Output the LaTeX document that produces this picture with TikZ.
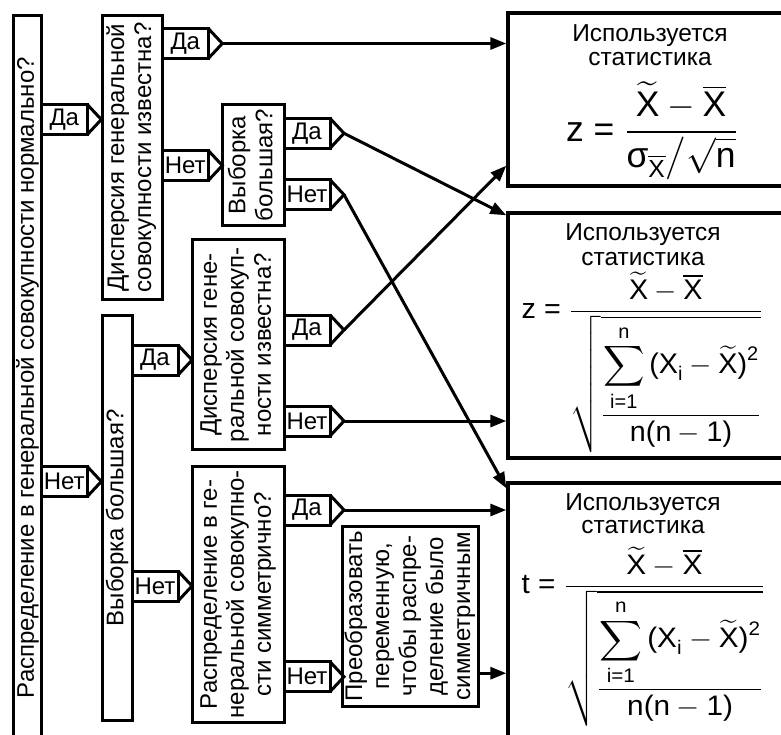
\documentclass[tikz,border=0pt]{standalone}
\usepackage{amsmath}
\usepackage{fontspec}
\setmainfont{Liberation Sans}
\usepackage{graphicx}
\usetikzlibrary{arrows.meta}

\newcommand\qfont{\fontsize{24}{27}\selectfont}
\newcommand\tgfont{\fontsize{24}{24}\selectfont}
\newcommand\rsfont{\fontsize{24.5}{24}\selectfont}
\newcommand\rot[1]{\rotatebox{90}{\begin{tabular}{@{}c@{}}#1\end{tabular}}}
\newcommand\TX{\widetilde{\text{X}}}
\newcommand\BX{\overline{\text{X}}}
\newcommand\SQform[1]{\fontsize{17.28}{20}\selectfont
  $\text{#1}\mathrel{\text{=}}\dfrac{\TX - \BX}{\sqrt{\dfrac{\displaystyle\sum\limits_{\text{i=1}}^{\text{n}}\text{(X}_{\text{i}} - \TX\text{)}^{\text{2}}}{\text{n(n} - \text{1)}}}}$}

\tikzset{
  qbox/.style={draw, line width=3pt, inner sep=0pt, outer sep=0pt, font=\qfont},
  resbox/.style={draw, line width=4pt, inner sep=0pt},
  tagbox/.style={draw, line width=3pt, minimum width=46pt, minimum height=30pt, inner sep=0pt, outer sep=0pt, font=\tgfont, anchor=west},
  tagline/.style={line width=3pt, line join=miter},
  arr/.style={line width=3pt, -{Triangle[length=16pt,width=12pt]}},
  rtext/.style={font=\rsfont, inner sep=0pt, anchor=base},
  ftext/.style={inner sep=0pt, outer sep=0pt, anchor=north west},
}

\newcommand\yesno[4]{%
  \node[tagbox] (#1) at (#2.east |- 0,#3) {#4};
  \draw[tagline] (#1.north east) -- ([xshift=14pt]#1.east) coordinate (#1tip) -- (#1.south east);
}

\begin{document}
\begin{tikzpicture}[x=1pt, y=-1pt]
\useasboundingbox (0,0) rectangle (781,734);
\fill[white] (0,0) rectangle (781,734);
\clip (0,0) rectangle (781,734);

% question boxes
\node[qbox, minimum width=27.8pt, minimum height=724.7pt] (q0) at (27.4,377.6)
  {\rotatebox{90}{Распределение в генеральной совокупности нормально?}};
\node[qbox, minimum width=60pt, minimum height=284.4pt] (b2) at (132.3,157.5)
  {\rot{Дисперсия генеральной\\совокупности известна?}};
\node[qbox, minimum width=61.3pt, minimum height=120.6pt] (b3) at (253.35,165)
  {\rot{Выборка\\большая?}};
\node[qbox, minimum width=91.2pt, minimum height=210.2pt] (b4) at (238.4,344.6)
  {\rot{Дисперсия гене-\\ральной совокуп-\\ности известна?}};
\node[qbox, minimum width=29.7pt, minimum height=404.5pt] (b2b) at (117.15,517.75)
  {\rotatebox{90}{Выборка большая?}};
\node[qbox, minimum width=91.2pt, minimum height=255.3pt] (b5) at (238.4,594.35)
  {\rot{Распределение в ге-\\неральной совокупно-\\сти симметрично?}};
\node[qbox, minimum width=135.9pt, minimum height=180pt] (tr) at (410.75,616.2)
  {\rot{Преобразовать\\переменную,\\чтобы распре-\\деление было\\симметричным}};

% result boxes
\node[resbox, minimum width=291.7pt, minimum height=172.4pt] (r1) at (654.15,99.5) {};
\node[resbox, minimum width=291.7pt, minimum height=245pt] (r2) at (654.15,335.8) {};
\node[resbox, minimum width=291.7pt, minimum height=256.7pt] (r3) at (654.15,611.65) {};

\node[rtext] (r1a) at (650,41) {Используется};
\node[rtext] (r1b) at (650,65) {статистика};
\node[ftext] (r1f) at (566,82) {\resizebox*{172pt}{98pt}{\fontsize{17.28}{20}\selectfont
  $\text{z}\mathrel{\text{=}}\dfrac{\TX - \BX}{\text{σ}_{\BX}\big/\sqrt{\text{n}}}$}};

\node[rtext] (r2a) at (643,240) {Используется};
\node[rtext] (r2b) at (643,265) {статистика};
\node[ftext] (r2f) at (521.7,271.7) {\resizebox*{241.3pt}{181.3pt}{\SQform{z}}};

\node[rtext] (r3a) at (643,510) {Используется};
\node[rtext] (r3b) at (643,533) {статистика};
\node[ftext] (r3f) at (521.7,546.7) {\resizebox*{243.3pt}{180pt}{\SQform{t}}};

% tags
\yesno{tm1}{q0}{119.5}{Да}
\yesno{tm2}{q0}{481.5}{Нет}
\yesno{t21}{b2}{43.5}{Да}
\yesno{t22}{b2}{165.5}{Нет}
\yesno{t31}{b3}{133.3}{Да}
\yesno{t32}{b3}{194.7}{Нет}
\yesno{t41}{b4}{330}{Да}
\yesno{t42}{b4}{421}{Нет}
\yesno{tb1}{b2b}{360}{Да}
\yesno{tb2}{b2b}{586}{Нет}
\yesno{t51}{b5}{510}{Да}
\yesno{t52}{b5}{676.7}{Нет}

% connectors
\draw[arr] (t21tip) -- (t21tip -| r1.west);
\draw[arr] (t31tip) -- ([yshift=-4pt]r2.north west);
\draw[arr] (t32tip) -- ([yshift=-7pt]r3.north west);
\draw[arr] (t41tip) -- ([yshift=22pt]r1.south west);
\draw[arr] (t42tip) -- (t42tip -| r2.west);
\draw[arr] (t51tip) -- (t51tip -| r3.west);
\coordinate (trout) at ([yshift=-57pt]tr.east);
\draw[arr] (trout) -- (trout -| r3.west);
\end{tikzpicture}
\end{document}
